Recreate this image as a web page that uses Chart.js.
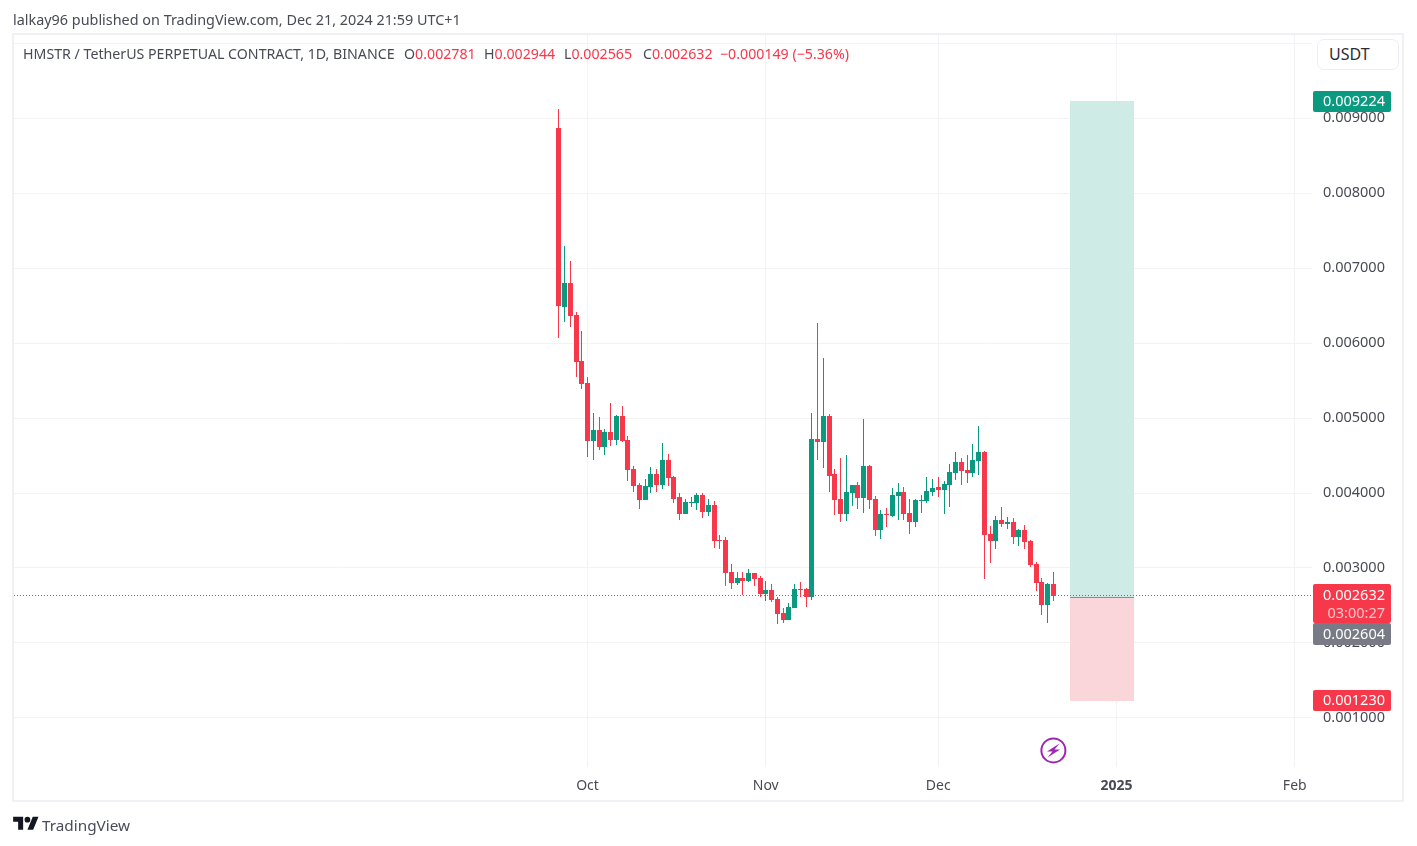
<!DOCTYPE html>
<html>
<head>
<meta charset="utf-8">
<title>HMSTR / TetherUS PERPETUAL CONTRACT</title>
<script src="https://cdn.jsdelivr.net/npm/chart.js@4"></script>
<style>
    html, body { margin: 0; padding: 0; background: #fff; width: 1417px; height: 846px; overflow: hidden; }
    body { font-family: "Noto Sans", sans-serif; color: #484b55; }
    canvas { position: absolute; left: 0; top: 0; }
    .abs { position: absolute; white-space: nowrap; line-height: 20px; font-size: 14.2px; }
    .red { color: #f7374a; }
    #frame { position: absolute; left: 12px; top: 33px; width: 1388px; height: 765px; border: 2px solid #f0f0f5; }
    #unit { position: absolute; left: 1317px; top: 39px; width: 80px; height: 29px; border: 1.5px solid #eeeef2; border-radius: 7px; background: #fff; font-size: 16px; line-height: 29px; text-indent: 11px; color: #2a2d36; }
</style>
</head>
<body>
<div id="frame"></div>
<canvas id="chart" width="1417" height="846"></canvas>
<div class="abs" style="left:13px;top:10px;font-size:14.4px">lalkay96 published on TradingView.com, Dec 21, 2024 21:59 UTC+1</div>
<div class="abs" style="left:23px;top:44px">HMSTR / TetherUS PERPETUAL CONTRACT, 1D, BINANCE</div>
<div class="abs" style="left:404px;top:44px">O<span class="red">0.002781</span></div>
<div class="abs" style="left:484px;top:44px">H<span class="red">0.002944</span></div>
<div class="abs" style="left:564px;top:44px">L<span class="red">0.002565</span></div>
<div class="abs" style="left:643px;top:44px">C<span class="red">0.002632</span></div>
<div class="abs red" style="left:720px;top:44px">−0.000149 (−5.36%)</div>
<div id="unit">USDT</div>
<svg style="position:absolute;left:1040px;top:737px" width="27" height="27" viewBox="0 0 27 27">
    <circle cx="13.4" cy="13.4" r="12" fill="none" stroke="#9c27b0" stroke-width="2"/>
    <path d="M19.5 6.5L7 14.4h5.5L7.5 20.5 20 12.6h-5.5z" fill="#9c27b0"/>
</svg>
<svg style="position:absolute;left:13px;top:814px" width="26" height="20" viewBox="0 0 36 28">
    <path d="M14 22H7V11H0V4h14v18zM28 22h-8l7.5-18h8L28 22z" fill="#131722"/>
    <circle cx="20" cy="8" r="4" fill="#131722"/>
</svg>
<div class="abs" style="left:42px;top:815px;font-size:15.3px;color:#4a4d57">TradingView</div>

<script>
// daily candles, Sep 26 to Dec 21 2024. day 0 is Oct 1
const firstDay = -5;
const opens = [0.008867,0.006482,0.006799,0.006372,0.005758,0.005464,0.004694,0.004837,0.004614,0.004810,0.004704,0.005024,0.004704,0.004317,0.004103,0.003907,0.004077,0.004250,0.004107,0.004437,0.004210,0.003943,0.003720,0.003863,0.003863,0.003970,0.003743,0.003836,0.003369,0.003369,0.002942,0.002799,0.002862,0.002822,0.002929,0.002862,0.002649,0.002702,0.002582,0.002395,0.002302,0.002462,0.002715,0.002715,0.002609,0.004717,0.004677,0.005024,0.004250,0.003916,0.003720,0.003996,0.004103,0.003930,0.004357,0.003916,0.003503,0.003716,0.003689,0.003956,0.004010,0.003730,0.003609,0.003890,0.003890,0.004010,0.004077,0.004036,0.004103,0.004263,0.004410,0.004303,0.004263,0.004423,0.004543,0.003449,0.003356,0.003636,0.003583,0.003609,0.003409,0.003503,0.003356,0.003049,0.002809,0.002502,0.002781];
const highs = [0.009120,0.007292,0.007092,0.006412,0.006158,0.005544,0.005064,0.005011,0.004850,0.005197,0.005037,0.005157,0.004757,0.004357,0.004130,0.004183,0.004343,0.004317,0.004664,0.004517,0.004223,0.003996,0.003916,0.003943,0.003996,0.003996,0.003916,0.003890,0.003436,0.003409,0.003049,0.002942,0.002942,0.002982,0.002929,0.002889,0.002822,0.002782,0.002609,0.002462,0.002529,0.002782,0.002809,0.002733,0.005064,0.006265,0.005798,0.005051,0.004317,0.004463,0.004503,0.004103,0.004143,0.004984,0.004370,0.003956,0.003770,0.003796,0.004063,0.004130,0.004077,0.003916,0.003916,0.003970,0.004210,0.004183,0.004210,0.004157,0.004383,0.004543,0.004463,0.004503,0.004650,0.004891,0.004557,0.003556,0.003689,0.003810,0.003676,0.003663,0.003516,0.003569,0.003369,0.003076,0.002862,0.002795,0.002944];
const lows = [0.006065,0.006282,0.006215,0.005548,0.005388,0.004481,0.004441,0.004570,0.004508,0.004628,0.004641,0.004677,0.004161,0.004014,0.003787,0.003907,0.004001,0.004014,0.004054,0.004094,0.003867,0.003640,0.003720,0.003810,0.003770,0.003663,0.003689,0.003262,0.003249,0.002755,0.002715,0.002773,0.002636,0.002809,0.002755,0.002609,0.002555,0.002542,0.002248,0.002262,0.002302,0.002462,0.002609,0.002475,0.002569,0.004437,0.004330,0.004010,0.003703,0.003609,0.003623,0.003823,0.003783,0.003730,0.003783,0.003423,0.003383,0.003543,0.003676,0.003636,0.003636,0.003449,0.003543,0.003730,0.003863,0.003956,0.003943,0.003716,0.003810,0.004170,0.004103,0.004130,0.004210,0.004237,0.002849,0.003062,0.003249,0.003543,0.003516,0.003316,0.003289,0.003249,0.003009,0.002689,0.002368,0.002262,0.002565];
const closes = [0.006492,0.006799,0.006362,0.005749,0.005455,0.004694,0.004837,0.004614,0.004810,0.004704,0.005024,0.004690,0.004307,0.004094,0.003907,0.004090,0.004250,0.004107,0.004437,0.004201,0.003920,0.003720,0.003876,0.003876,0.003970,0.003747,0.003836,0.003360,0.003356,0.002933,0.002799,0.002862,0.002826,0.002929,0.002849,0.002649,0.002702,0.002569,0.002382,0.002302,0.002475,0.002715,0.002702,0.002609,0.004717,0.004681,0.005024,0.004227,0.003903,0.003720,0.004010,0.004103,0.003930,0.004357,0.003903,0.003503,0.003716,0.003703,0.003970,0.004010,0.003716,0.003609,0.003903,0.003903,0.004023,0.004063,0.004036,0.004117,0.004277,0.004410,0.004290,0.004263,0.004437,0.004543,0.003436,0.003356,0.003636,0.003583,0.003609,0.003409,0.003503,0.003343,0.003036,0.002795,0.002502,0.002782,0.002632];

const monthDays = [0, 31, 61, 92, 123];
const monthLabels = ["Oct", "Nov", "Dec", "2025", "Feb"];
const priceTicks = [0.001, 0.002, 0.003, 0.004, 0.005, 0.006, 0.007, 0.008, 0.009, 0.01];
const priceLabels = ["0.001000", "0.002000", "0.003000", "0.004000", "0.005000", "0.006000", "0.007000", "0.008000", "0.009000", ""];

// long position tool, drawn from entry to target and stop
const positionDays = [83.85, 95.1];
const entryPrice = 0.002604;
const targetPrice = 0.009224;
const stopPrice = 0.00123;
const lastPrice = 0.002632;
const countdown = "03:00:27";

const xRange = [-99.74, 126];
const yRange = [0.000344, 0.010112];

const UP = "#0a9a80";
const DOWN = "#f7374a";
const TEXT = "#484b55";
const GRID = "#f3f3f5";
const FONT = '"Noto Sans", sans-serif';

const days = opens.map((_, i) => firstDay + i);
const candleColors = opens.map((o, i) => closes[i] >= o ? UP : DOWN);

const wicks = days.map((d, i) => ({ x: d, y: [lows[i], highs[i]] }));
const bodies = days.map((d, i) => ({ x: d, y: [opens[i], closes[i]] }));

// keep wicks and the dotted line sharp, wick and body on the same pixel column
const snapMarks = {
    id: "snapMarks",
    afterDatasetsUpdate(chart) {
        chart.data.datasets.forEach((ds, i) => {
            chart.getDatasetMeta(i).data.forEach(el => {
                if (ds.type === "line") {
                    el.y = Math.floor(el.y) + 0.5;
                    return;
                }
                el.x = Math.floor(el.x) + 0.5;
                el.y = Math.round(el.y);
                el.base = Math.round(el.base);
                if (el.y === el.base) el.base = el.y + 1;
            });
        });
    }
};

const positionBoxes = {
    id: "positionBoxes",
    beforeDatasetsDraw(chart) {
        const { ctx, scales: { x, y } } = chart;
        const left = Math.round(x.getPixelForValue(positionDays[0]));
        const width = Math.round(x.getPixelForValue(positionDays[1])) - left;
        const entry = Math.floor(y.getPixelForValue(entryPrice));
        const target = Math.floor(y.getPixelForValue(targetPrice));
        const stop = Math.round(y.getPixelForValue(stopPrice));
        ctx.save();
        ctx.fillStyle = "#cfebe5";
        ctx.fillRect(left, target, width, entry - target);
        ctx.fillStyle = "#fad5d9";
        ctx.fillRect(left, entry, width, stop - entry);
        ctx.fillStyle = "#8a8d96";
        ctx.fillRect(left, entry, width, 1);
        ctx.restore();
    }
};

function badge(ctx, top, height, color, lines) {
    ctx.fillStyle = color;
    ctx.beginPath();
    ctx.roundRect(1313, top, 78, height, 2);
    ctx.fill();
    lines.forEach(line => {
        ctx.fillStyle = line.color;
        ctx.fillText(line.text, 1385, top + line.dy);
    });
}

const priceBadges = {
    id: "priceBadges",
    afterDraw(chart) {
        const { ctx, scales: { y } } = chart;
        ctx.save();
        ctx.font = '14.5px ' + FONT;
        ctx.textAlign = "right";
        ctx.textBaseline = "middle";
        const at = v => Math.floor(y.getPixelForValue(v));
        const lastTop = at(lastPrice) - 11;
        badge(ctx, at(targetPrice) - 10, 21, UP, [{ text: targetPrice.toFixed(6), color: "#fff", dy: 11 }]);
        // the entry label gets pushed below the last price label, like on the site
        badge(ctx, lastTop + 39, 22, "#787b86", [{ text: entryPrice.toFixed(6), color: "#fff", dy: 12 }]);
        badge(ctx, lastTop, 39, DOWN, [
            { text: lastPrice.toFixed(6), color: "#fff", dy: 12 },
            { text: countdown, color: "#fcc4ca", dy: 30 }
        ]);
        badge(ctx, at(stopPrice) - 10, 21, DOWN, [{ text: stopPrice.toFixed(6), color: "#fff", dy: 11 }]);
        ctx.restore();
    }
};

new Chart(document.getElementById("chart"), {
    data: {
        datasets: [
            {
                type: "line",
                data: [{ x: xRange[0], y: lastPrice }, { x: xRange[1], y: lastPrice }],
                borderColor: DOWN,
                borderWidth: 1,
                borderDash: [1, 2],
                pointRadius: 0,
                order: 3
            },
            {
                type: "bar",
                data: wicks,
                backgroundColor: candleColors,
                barThickness: 1,
                grouped: false,
                inflateAmount: 0,
                order: 2
            },
            {
                type: "bar",
                data: bodies,
                backgroundColor: candleColors,
                barThickness: 5,
                minBarLength: 1,
                grouped: false,
                inflateAmount: 0,
                order: 1
            }
        ]
    },
    options: {
        responsive: false,
        animation: false,
        devicePixelRatio: 1,
        layout: { padding: { left: 14, top: 35, right: 13, bottom: 44 } },
        plugins: { legend: { display: false }, tooltip: { enabled: false } },
        scales: {
            x: {
                type: "linear",
                min: xRange[0],
                max: xRange[1],
                offset: false,
                border: { display: false },
                grid: { color: GRID, drawTicks: false, offset: false },
                afterBuildTicks: axis => { axis.ticks = monthDays.map(v => ({ value: v })); },
                afterFit: axis => { axis.height = 35; },
                ticks: {
                    padding: 11,
                    maxRotation: 0,
                    autoSkip: false,
                    color: TEXT,
                    font: ctx => ({ family: FONT, size: 14, weight: monthLabels[ctx.index] === "2025" ? "bold" : "normal" }),
                    callback: (v, i) => monthLabels[i]
                }
            },
            y: {
                position: "right",
                min: yRange[0],
                max: yRange[1],
                border: { display: false },
                grid: { color: GRID, drawTicks: false },
                afterBuildTicks: axis => { axis.ticks = priceTicks.map(v => ({ value: v })); },
                afterFit: axis => { axis.width = 92; },
                ticks: {
                    padding: 11,
                    autoSkip: false,
                    color: TEXT,
                    font: { family: FONT, size: 14.5 },
                    callback: (v, i) => priceLabels[i]
                }
            }
        }
    },
    plugins: [snapMarks, positionBoxes, priceBadges]
});
</script>
</body>
</html>
